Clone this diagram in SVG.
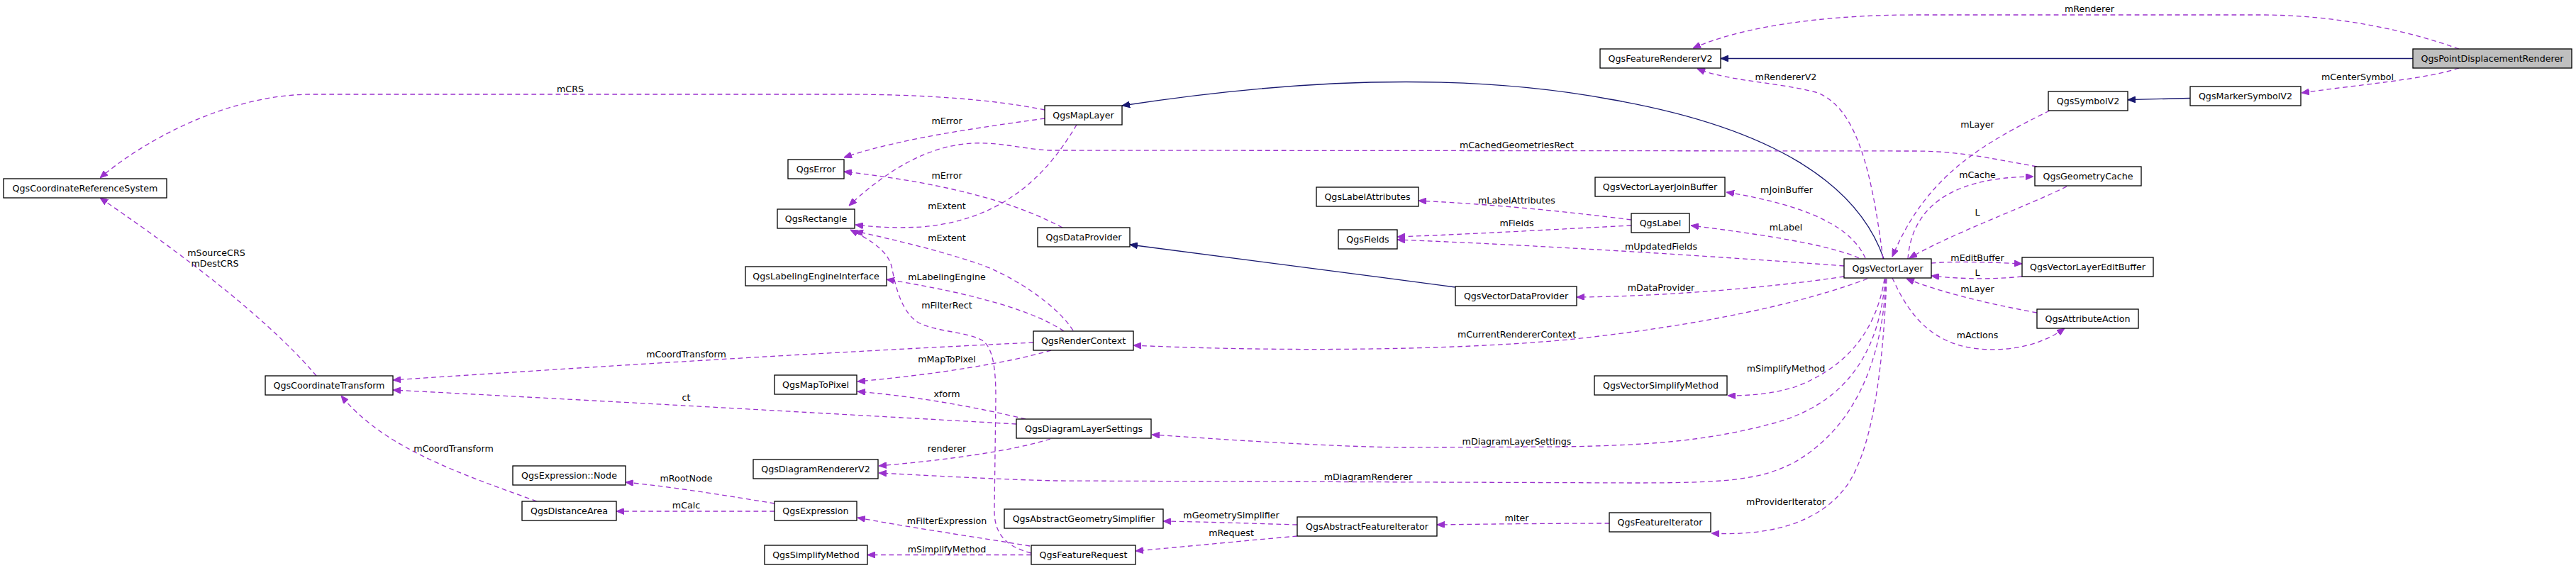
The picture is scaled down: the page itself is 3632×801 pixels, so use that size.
<svg xmlns="http://www.w3.org/2000/svg" width="3632" height="801" viewBox="0 0 3632 801">
<style>
.n rect{fill:#fff;stroke:#000;stroke-width:1.3}
.n.g rect{fill:#bfbfbf}
text{font-family:"DejaVu Sans","Liberation Sans",sans-serif;font-size:12.67px;text-anchor:middle;fill:#000}
.u{fill:none;stroke:#9a32cd;stroke-width:1.3;stroke-dasharray:6.7,4.7;marker-end:url(#ap)}
.h{fill:none;stroke:#191970;stroke-width:1.3;marker-end:url(#an)}
</style>
<defs>
<marker id="ap" markerUnits="userSpaceOnUse" markerWidth="11" markerHeight="9" viewBox="0 0 11 9" refX="11" refY="4.5" orient="auto"><path d="M0,0 L11,4.5 L0,9 z" fill="#9a32cd" stroke="#9a32cd"/></marker>
<marker id="an" markerUnits="userSpaceOnUse" markerWidth="11" markerHeight="9" viewBox="0 0 11 9" refX="11" refY="4.5" orient="auto"><path d="M0,0 L11,4.5 L0,9 z" fill="#191970" stroke="#191970"/></marker>
</defs>
<rect width="3632" height="801" fill="#fff"/>
<g id="connectors">
<path class="h" d="M3402,82.5 L2426,82.5"/>
<path class="u" d="M3467,69 C3400,45 3300,21 3187,21 L2700,21 C2560,21 2450,40 2387,68"/>
<path class="u" d="M3467,96 C3420,112 3320,120 3245,131"/>
<path class="h" d="M3088,138.5 L3000,140.7"/>
<path class="u" d="M2890,156 C2790,205 2715,250 2668,362"/>
<path class="u" d="M2914,263 C2860,290 2750,330 2692,364"/>
<path class="u" d="M2690,365 C2695,300 2740,250 2867,249"/>
<path class="u" d="M2723,371 C2760,368 2810,370 2851,372"/>
<path class="u" d="M2851,390 C2810,394 2770,394 2723,389"/>
<path class="u" d="M2872,441 C2800,428 2730,410 2688,393"/>
<path class="u" d="M2668,392 C2690,440 2720,485 2790,492 C2840,496 2880,485 2911,463"/>
<path class="h" d="M2656,365 C2620,260 2500,180 2270,140 C2120,112 1900,100 1582,149"/>
<path class="u" d="M2655,365 C2640,250 2620,150 2560,130 C2500,115 2440,115 2393,97"/>
<path class="u" d="M2630,364 C2610,320 2550,290 2434,271"/>
<path class="u" d="M2621,364 C2580,345 2480,330 2384,318"/>
<path class="u" d="M2600,375 C2400,360 2150,345 1970,338"/>
<path class="u" d="M2300,318 C2200,323 2080,330 1970,334"/>
<path class="u" d="M2300,310 C2200,297 2100,288 2000,283"/>
<path class="u" d="M2872,235 C2800,222 2760,213 2700,213 L1480,212 C1440,210 1410,200 1370,202 C1300,206 1240,250 1197,290"/>
<path class="u" d="M1473,155 C1400,140 1300,133 1190,133 L440,133 C320,133 200,200 141,251"/>
<path class="u" d="M1473,167 C1380,180 1270,195 1190,222"/>
<path class="u" d="M1518,176 C1480,240 1420,310 1300,320 C1260,322 1230,320 1206,317"/>
<path class="u" d="M1498,321 C1440,290 1350,260 1190,242"/>
<path class="u" d="M1513,466 C1490,430 1430,390 1380,372 C1320,352 1260,338 1206,326"/>
<path class="u" d="M1454,780 C1415,770 1402,750 1402,720 L1404,560 C1404,520 1400,490 1385,480 C1365,468 1320,468 1295,455 C1270,440 1262,400 1258,380 C1254,355 1230,340 1199,324"/>
<path class="u" d="M1500,467 C1460,440 1380,415 1250,394"/>
<path class="u" d="M1457,483 C1200,495 900,513 554,536"/>
<path class="u" d="M1433,598 C1200,585 900,568 554,550"/>
<path class="u" d="M1482,494 C1420,512 1320,528 1209,538"/>
<path class="u" d="M1446,591 C1380,575 1300,560 1209,552"/>
<path class="u" d="M1481,619 C1420,638 1320,650 1239,657"/>
<path class="u" d="M2659,393 C2655,500 2620,600 2530,652 C2480,678 2430,681 2300,681 L1490,678 C1400,676 1300,670 1239,667"/>
<path class="u" d="M2658,393 C2650,500 2600,570 2500,597 C2420,618 2350,628 2200,630 L1980,631 C1880,630 1760,622 1624,613"/>
<path class="u" d="M2657,393 C2645,470 2600,520 2530,546 C2500,555 2470,558 2436,558"/>
<path class="u" d="M2660,393 C2655,520 2640,640 2600,690 C2560,740 2490,756 2413,752"/>
<path class="u" d="M2633,393 C2550,425 2400,460 2200,480 C2000,497 1750,494 1598,487"/>
<path class="u" d="M2600,390 C2500,405 2350,418 2223,419"/>
<path class="h" d="M2052,405 C1900,385 1750,365 1593,345"/>
<path class="u" d="M446,530 C370,440 230,340 141,279"/>
<path class="u" d="M757,707 C640,665 540,630 481,558"/>
<path class="u" d="M1092,710 C1030,700 960,688 882,680"/>
<path class="u" d="M1092,721 L869,721"/>
<path class="u" d="M1452,770 C1380,758 1290,745 1209,730"/>
<path class="u" d="M1454,782.5 L1223,782.5"/>
<path class="u" d="M1829,740 C1760,738 1700,736 1640,735"/>
<path class="u" d="M1829,756 C1760,762 1680,770 1601,777"/>
<path class="u" d="M2269,738 C2200,738 2100,739 2026,740"/>
<g id="edge-labels">
<text x="2946" y="17">mRenderer</text>
<text x="2518" y="113">mRendererV2</text>
<text x="3324" y="113">mCenterSymbol</text>
<text x="2788" y="180">mLayer</text>
<text x="804" y="129.5">mCRS</text>
<text x="1335" y="175">mError</text>
<text x="2138.5" y="209">mCachedGeometriesRect</text>
<text x="2788" y="251">mCache</text>
<text x="1335" y="252">mError</text>
<text x="2519" y="272">mJoinBuffer</text>
<text x="2138.5" y="287">mLabelAttributes</text>
<text x="1335" y="295">mExtent</text>
<text x="2788" y="303.5">L</text>
<text x="2138.5" y="319">mFields</text>
<text x="2518" y="325">mLabel</text>
<text x="1335" y="340">mExtent</text>
<text x="2342" y="352">mUpdatedFields</text>
<text x="305" y="360.5">mSourceCRS</text>
<text x="303" y="376">mDestCRS</text>
<text x="2788" y="368">mEditBuffer</text>
<text x="2788" y="388.5">L</text>
<text x="1335" y="395">mLabelingEngine</text>
<text x="2342" y="409.5">mDataProvider</text>
<text x="2788" y="412">mLayer</text>
<text x="1335" y="435">mFilterRect</text>
<text x="2138.5" y="476">mCurrentRendererContext</text>
<text x="2788" y="477">mActions</text>
<text x="967.5" y="503.5">mCoordTransform</text>
<text x="1335" y="511">mMapToPixel</text>
<text x="2518" y="524">mSimplifyMethod</text>
<text x="1335" y="560">xform</text>
<text x="967.5" y="564.5">ct</text>
<text x="2138.5" y="627">mDiagramLayerSettings</text>
<text x="1335" y="637">renderer</text>
<text x="639.5" y="637">mCoordTransform</text>
<text x="1929" y="677">mDiagramRenderer</text>
<text x="967.5" y="679">mRootNode</text>
<text x="2518" y="712">mProviderIterator</text>
<text x="967.5" y="717">mCalc</text>
<text x="1736" y="731">mGeometrySimplifier</text>
<text x="2138.5" y="735">mIter</text>
<text x="1335" y="739">mFilterExpression</text>
<text x="1736" y="756">mRequest</text>
<text x="1335" y="779">mSimplifyMethod</text>
</g>
</g>
<g id="QgsPointDisplacementRenderer" class="n g"><rect x="3402" y="69" width="224" height="27"/><text x="3514" y="87">QgsPointDisplacementRenderer</text></g>
<g id="QgsFeatureRendererV2" class="n"><rect x="2256" y="69" width="170" height="27"/><text x="2341" y="87">QgsFeatureRendererV2</text></g>
<g id="QgsMarkerSymbolV2" class="n"><rect x="3088" y="122" width="156" height="27"/><text x="3166" y="140">QgsMarkerSymbolV2</text></g>
<g id="QgsSymbolV2" class="n"><rect x="2888" y="129" width="112" height="27"/><text x="2944" y="147">QgsSymbolV2</text></g>
<g id="QgsMapLayer" class="n"><rect x="1473" y="149" width="109" height="27"/><text x="1527.5" y="167">QgsMapLayer</text></g>
<g id="QgsCoordinateReferenceSystem" class="n"><rect x="5" y="252" width="230" height="27"/><text x="120" y="270">QgsCoordinateReferenceSystem</text></g>
<g id="QgsError" class="n"><rect x="1111" y="225" width="79" height="27"/><text x="1150.5" y="243">QgsError</text></g>
<g id="QgsRectangle" class="n"><rect x="1096" y="295" width="109" height="27"/><text x="1150.5" y="313">QgsRectangle</text></g>
<g id="QgsGeometryCache" class="n"><rect x="2869" y="235" width="150" height="27"/><text x="2944" y="253">QgsGeometryCache</text></g>
<g id="QgsVectorLayerJoinBuffer" class="n"><rect x="2249" y="250" width="183" height="27"/><text x="2340.5" y="268">QgsVectorLayerJoinBuffer</text></g>
<g id="QgsLabelAttributes" class="n"><rect x="1856" y="264" width="144" height="27"/><text x="1928" y="282">QgsLabelAttributes</text></g>
<g id="QgsLabel" class="n"><rect x="2300" y="301" width="82" height="27"/><text x="2341" y="319">QgsLabel</text></g>
<g id="QgsFields" class="n"><rect x="1887" y="324" width="83" height="27"/><text x="1928.5" y="342">QgsFields</text></g>
<g id="QgsDataProvider" class="n"><rect x="1463" y="321" width="130" height="27"/><text x="1528" y="339">QgsDataProvider</text></g>
<g id="QgsVectorLayer" class="n"><rect x="2600" y="365" width="123" height="27"/><text x="2661.5" y="383">QgsVectorLayer</text></g>
<g id="QgsVectorLayerEditBuffer" class="n"><rect x="2851" y="363" width="185" height="27"/><text x="2943.5" y="381">QgsVectorLayerEditBuffer</text></g>
<g id="QgsLabelingEngineInterface" class="n"><rect x="1051" y="376" width="199" height="27"/><text x="1150.5" y="394">QgsLabelingEngineInterface</text></g>
<g id="QgsVectorDataProvider" class="n"><rect x="2052" y="404" width="171" height="27"/><text x="2137.5" y="422">QgsVectorDataProvider</text></g>
<g id="QgsAttributeAction" class="n"><rect x="2872" y="436" width="143" height="27"/><text x="2943.5" y="454">QgsAttributeAction</text></g>
<g id="QgsRenderContext" class="n"><rect x="1457" y="467" width="141" height="27"/><text x="1527.5" y="485">QgsRenderContext</text></g>
<g id="QgsCoordinateTransform" class="n"><rect x="374" y="530" width="180" height="27"/><text x="464" y="548">QgsCoordinateTransform</text></g>
<g id="QgsMapToPixel" class="n"><rect x="1092" y="529" width="116" height="27"/><text x="1150" y="547">QgsMapToPixel</text></g>
<g id="QgsVectorSimplifyMethod" class="n"><rect x="2248" y="530" width="187" height="27"/><text x="2341.5" y="548">QgsVectorSimplifyMethod</text></g>
<g id="QgsDiagramLayerSettings" class="n"><rect x="1433" y="591" width="190" height="27"/><text x="1528" y="609">QgsDiagramLayerSettings</text></g>
<g id="QgsDiagramRendererV2" class="n"><rect x="1062" y="648" width="176" height="27"/><text x="1150" y="666">QgsDiagramRendererV2</text></g>
<g id="QgsExpressionNode" class="n"><rect x="723" y="657" width="159" height="27"/><text x="802.5" y="675">QgsExpression::Node</text></g>
<g id="QgsDistanceArea" class="n"><rect x="736" y="707" width="133" height="27"/><text x="802.5" y="725">QgsDistanceArea</text></g>
<g id="QgsExpression" class="n"><rect x="1092" y="707" width="116" height="27"/><text x="1150" y="725">QgsExpression</text></g>
<g id="QgsAbstractGeometrySimplifier" class="n"><rect x="1416" y="718" width="224" height="27"/><text x="1528" y="736">QgsAbstractGeometrySimplifier</text></g>
<g id="QgsFeatureIterator" class="n"><rect x="2269" y="723" width="143" height="27"/><text x="2340.5" y="741">QgsFeatureIterator</text></g>
<g id="QgsAbstractFeatureIterator" class="n"><rect x="1829" y="729" width="197" height="27"/><text x="1927.5" y="747">QgsAbstractFeatureIterator</text></g>
<g id="QgsSimplifyMethod" class="n"><rect x="1078" y="769" width="145" height="27"/><text x="1150.5" y="787">QgsSimplifyMethod</text></g>
<g id="QgsFeatureRequest" class="n"><rect x="1454" y="769" width="147" height="27"/><text x="1527.5" y="787">QgsFeatureRequest</text></g>
</svg>
